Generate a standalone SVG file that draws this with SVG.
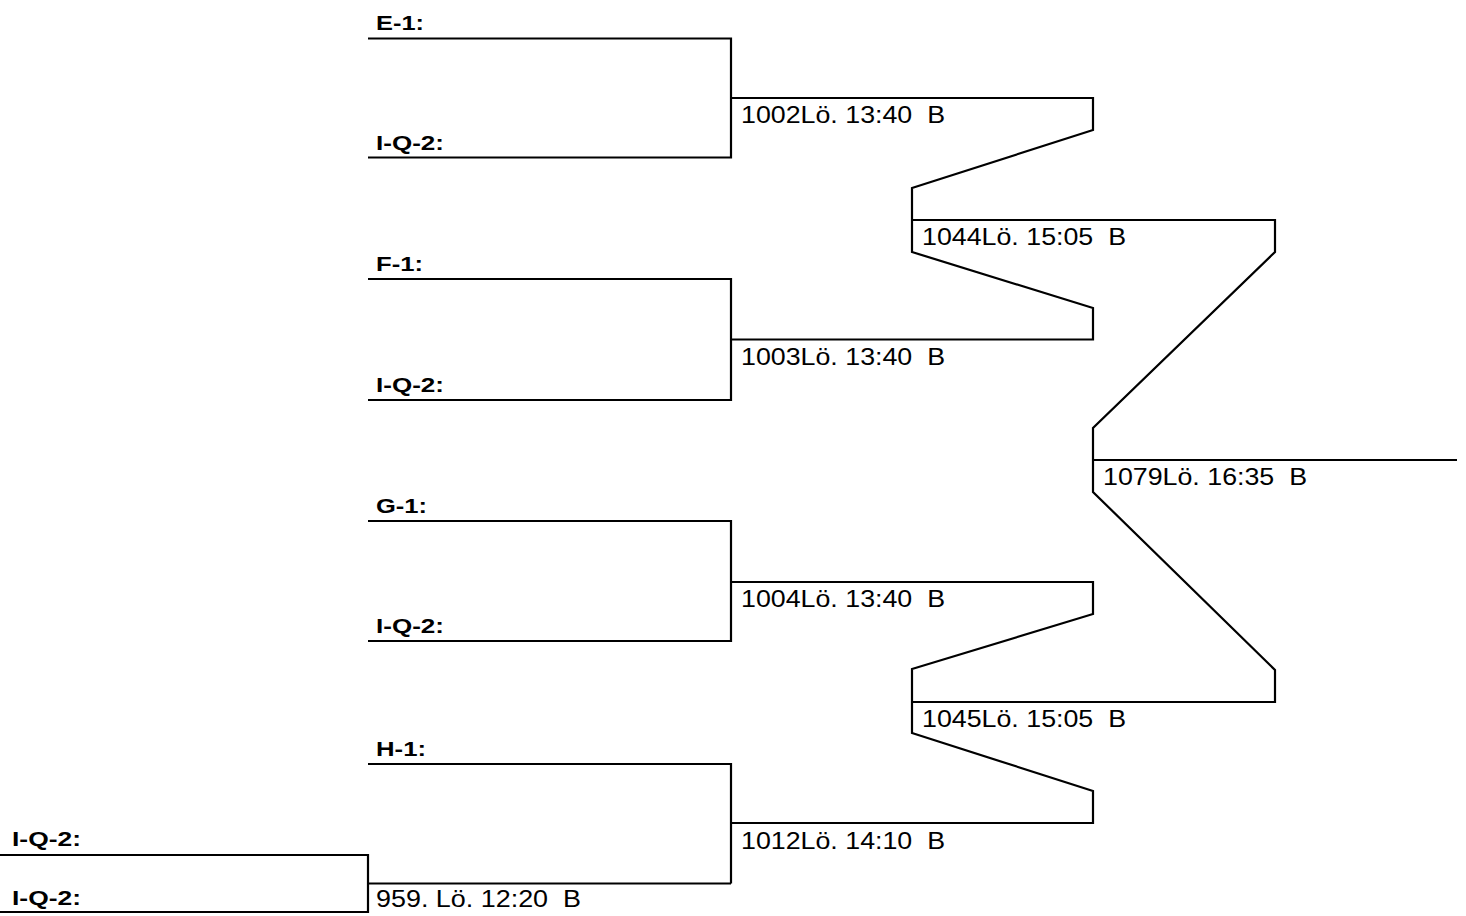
<svg xmlns="http://www.w3.org/2000/svg" width="1466" height="916" viewBox="0 0 1466 916">
<style>
.ln{fill:none;stroke:#000;stroke-width:2.2;stroke-linejoin:miter}
.team{font-family:"Liberation Sans",Arial,sans-serif;font-weight:bold;font-size:20px;fill:#000}
.match{font-family:"Liberation Sans",Arial,sans-serif;font-size:23.5px;fill:#000;white-space:pre}
</style>
<rect width="1466" height="916" fill="#fff"/>
<g id="connectors">
<path class="ln" d="M0,855 H368 V912 H0"/>
<path class="ln" d="M368,883.5 H731"/>
<path class="ln" d="M368,38.5 H731 V157.5 H368"/>
<path class="ln" d="M368,279 H731 V400 H368"/>
<path class="ln" d="M368,521 H731 V641 H368"/>
<path class="ln" d="M368,764 H731 V883.5"/>
<path class="ln" d="M731,98 H1093 V130 L912,188 V252 L1093,308 V339.5 H731"/>
<path class="ln" d="M731,582 H1093 V614 L912,669 V733 L1093,791 V823 H731"/>
<path class="ln" d="M912,220 H1275 V252 L1093,428 V492 L1275,670 V702 H912"/>
<path class="ln" d="M1093,460 H1457"/>
</g>
<g id="team-e1"><text class="team" x="376" y="30" textLength="48" lengthAdjust="spacingAndGlyphs">E-1:</text></g>
<g id="team-iq2-a"><text class="team" x="376" y="150" textLength="68" lengthAdjust="spacingAndGlyphs">I-Q-2:</text></g>
<g id="team-f1"><text class="team" x="376" y="271" textLength="47" lengthAdjust="spacingAndGlyphs">F-1:</text></g>
<g id="team-iq2-b"><text class="team" x="376" y="392" textLength="68" lengthAdjust="spacingAndGlyphs">I-Q-2:</text></g>
<g id="team-g1"><text class="team" x="376" y="513" textLength="51" lengthAdjust="spacingAndGlyphs">G-1:</text></g>
<g id="team-iq2-c"><text class="team" x="376" y="633" textLength="68" lengthAdjust="spacingAndGlyphs">I-Q-2:</text></g>
<g id="team-h1"><text class="team" x="376" y="756" textLength="50" lengthAdjust="spacingAndGlyphs">H-1:</text></g>
<g id="team-iq2-d"><text class="team" x="12" y="846" textLength="69" lengthAdjust="spacingAndGlyphs">I-Q-2:</text></g>
<g id="team-iq2-e"><text class="team" x="12" y="905" textLength="69" lengthAdjust="spacingAndGlyphs">I-Q-2:</text></g>
<g id="m959"><text class="match" xml:space="preserve" x="376" y="907" textLength="205" lengthAdjust="spacingAndGlyphs">959. Lö. 12:20  B</text></g>
<g id="m1002"><text class="match" xml:space="preserve" x="741" y="123" textLength="204" lengthAdjust="spacingAndGlyphs">1002Lö. 13:40  B</text></g>
<g id="m1003"><text class="match" xml:space="preserve" x="741" y="365" textLength="204" lengthAdjust="spacingAndGlyphs">1003Lö. 13:40  B</text></g>
<g id="m1004"><text class="match" xml:space="preserve" x="741" y="607" textLength="204" lengthAdjust="spacingAndGlyphs">1004Lö. 13:40  B</text></g>
<g id="m1012"><text class="match" xml:space="preserve" x="741" y="849" textLength="204" lengthAdjust="spacingAndGlyphs">1012Lö. 14:10  B</text></g>
<g id="m1044"><text class="match" xml:space="preserve" x="922" y="245" textLength="204" lengthAdjust="spacingAndGlyphs">1044Lö. 15:05  B</text></g>
<g id="m1045"><text class="match" xml:space="preserve" x="922" y="727" textLength="204" lengthAdjust="spacingAndGlyphs">1045Lö. 15:05  B</text></g>
<g id="m1079"><text class="match" xml:space="preserve" x="1103" y="485" textLength="204" lengthAdjust="spacingAndGlyphs">1079Lö. 16:35  B</text></g>
</svg>
